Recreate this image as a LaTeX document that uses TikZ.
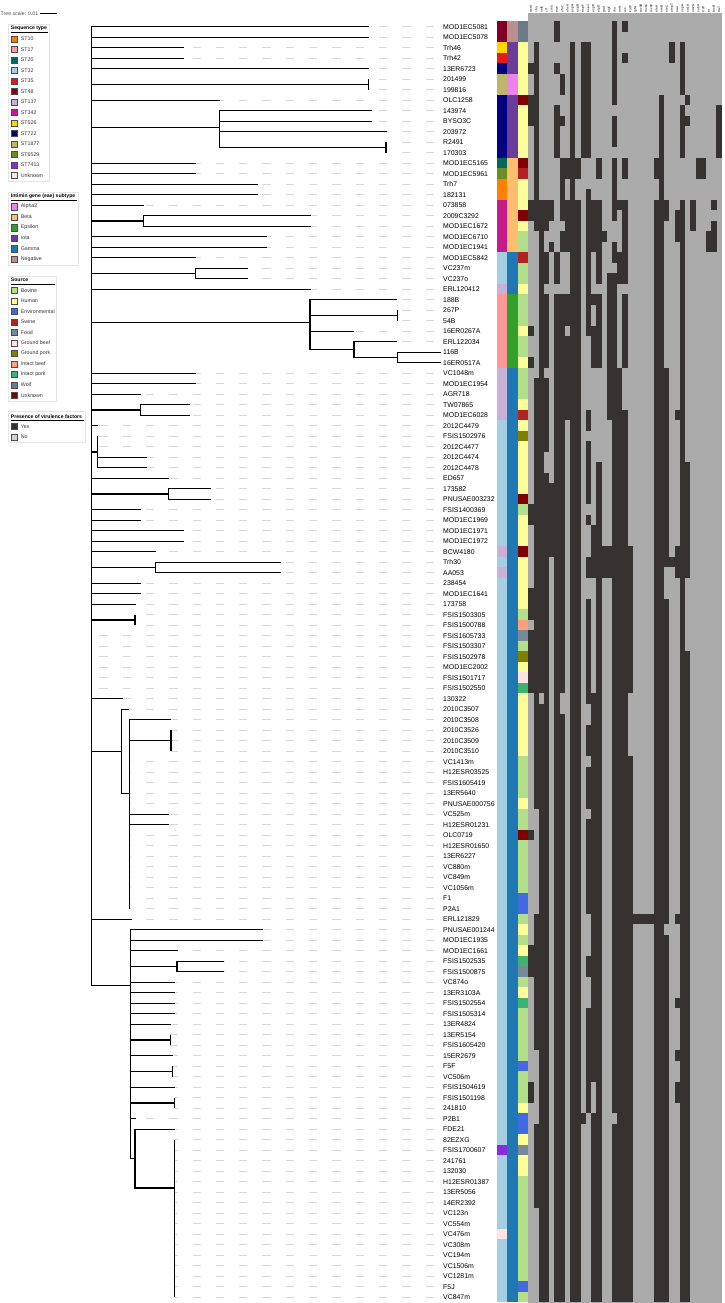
\documentclass[tikz,border=0pt]{standalone}
\usepackage{fontspec}
\setmainfont{Liberation Sans}
\usetikzlibrary{positioning}
% sequence types
\definecolor{st10}{HTML}{FF7F00}
\definecolor{st17}{HTML}{FB9A99}
\definecolor{st20}{HTML}{00695C}
\definecolor{st32}{HTML}{A6CEE3}
\definecolor{st35}{HTML}{E31A1C}
\definecolor{st48}{HTML}{800026}
\definecolor{st137}{HTML}{CAB2D6}
\definecolor{st342}{HTML}{C51B8A}
\definecolor{st526}{HTML}{FFD700}
\definecolor{st722}{HTML}{000080}
\definecolor{st1877}{HTML}{BDB76B}
\definecolor{st6529}{HTML}{6B8E23}
\definecolor{st7413}{HTML}{8A2BE2}
\definecolor{stunk}{HTML}{FFE4E1}
% intimin subtypes
\definecolor{eaeAlpha}{HTML}{EE82EE}
\definecolor{eaeBeta}{HTML}{FDBF6F}
\definecolor{eaeEps}{HTML}{33A02C}
\definecolor{eaeIota}{HTML}{6A3D9A}
\definecolor{eaeGamma}{HTML}{1F78B4}
\definecolor{eaeNeg}{HTML}{BC8F8F}
% sources
\definecolor{srcBov}{HTML}{B2DF8A}
\definecolor{srcHum}{HTML}{FFFF99}
\definecolor{srcEnv}{HTML}{4169E1}
\definecolor{srcSwi}{HTML}{B22222}
\definecolor{srcFood}{HTML}{778899}
\definecolor{srcGbeef}{HTML}{FFE4E1}
\definecolor{srcGpork}{HTML}{808000}
\definecolor{srcIbeef}{HTML}{FFA07A}
\definecolor{srcIpork}{HTML}{3CB371}
\definecolor{srcWolf}{HTML}{6C7A89}
\definecolor{srcUnk}{HTML}{800000}
% virulence
\definecolor{virYes}{HTML}{363232}
\definecolor{virNo}{HTML}{D3D3D3}
\definecolor{heatNo}{HTML}{ABABAB}
\newcommand{\ry}[1]{(26.7+10.5*(#1))}

\begin{document}
\begin{tikzpicture}[x=1pt,y=-1pt,
    branch/.style={line width=1.1pt},
    guide/.style={draw=black!16, line width=0.6pt, dash pattern=on 8.3pt off 15pt},
    tiplabel/.style={anchor=west, inner sep=0pt, font=\fontsize{6.9}{8}\selectfont},
    swatch/.style={draw=black!70, line width=0.3pt, minimum size=6.2pt, inner sep=0pt},
    legtext/.style={inner sep=0pt, font=\fontsize{5.3}{6}\selectfont, text=black!80},
    legtitle/.style={anchor=west, inner sep=0pt, font=\fontsize{5.1}{6}\selectfont\bfseries},
    legbox/.style={draw=black!10, line width=0.5pt},
    colhead/.style={rotate=90, anchor=west, inner sep=0pt, font=\fontsize{3.2}{4}\selectfont}
]
\useasboundingbox (0,0) rectangle (724,1303);

% tree scale
\node[anchor=west, inner sep=0pt, font=\fontsize{5.2}{6}\selectfont, text=black!70] (scaletxt) at (0.5,13.3) {Tree scale: 0.01};
\draw[line width=1.3pt] ([xshift=1.5pt]scaletxt.east) -- ++(17.4,0);

% legends
\draw[legbox] (8.3,24.3) rectangle (49.3,181.4);
\node[legtitle] (ttlST) at (10.7,28.6) {Sequence type};
\draw[line width=0.4pt] (10.7,32.6) -- (48.3,32.6);
\foreach \col/\txt [count=\k from 0] in {st10/ST10, st17/ST17, st20/ST20, st32/ST32, st35/ST35, st48/ST48, st137/ST137, st342/ST342, st526/ST526, st722/ST722, st1877/ST1877, st6529/ST6529, st7413/ST7413, stunk/Unknown}{
  \node[swatch, fill=\col] (kST\k) at (14,{38.9+10.5*\k}) {};
  \node[legtext, right=3.4pt of kST\k] (tST\k) {\txt};
}
\draw[legbox] (8.3,192.3) rectangle (78.3,265.6);
\node[legtitle] (ttlEae) at (10.7,196.6) {Intimin gene (eae) subtype};
\draw[line width=0.4pt] (10.7,200.6) -- (77.3,200.6);
\foreach \col/\txt [count=\k from 0] in {eaeAlpha/Alpha2, eaeBeta/Beta, eaeEps/Epsilon, eaeIota/Iota, eaeGamma/Gamma, eaeNeg/Negative}{
  \node[swatch, fill=\col] (kEae\k) at (14,{206.6+10.5*\k}) {};
  \node[legtext, right=3.4pt of kEae\k] (tEae\k) {\txt};
}
\draw[legbox] (8.3,275.8) rectangle (56,401.1);
\node[legtitle] (ttlSrc) at (10.7,280.1) {Source};
\draw[line width=0.4pt] (10.7,284.1) -- (55,284.1);
\foreach \col/\txt [count=\k from 0] in {srcBov/Bovine, srcHum/Human, srcEnv/Environmental, srcSwi/Swine, srcFood/Food, srcGbeef/Ground beef, srcGpork/Ground pork, srcIbeef/Intact beef, srcIpork/Intact pork, srcWolf/Wolf, srcUnk/Unknown}{
  \node[swatch, fill=\col] (kSrc\k) at (14,{290.5+10.5*\k}) {};
  \node[legtext, right=3.4pt of kSrc\k] (tSrc\k) {\txt};
}
\draw[legbox] (8.3,411.3) rectangle (85,442.6);
\node[legtitle] (ttlVir) at (10.7,416.4) {Presence of virulence factors};
\draw[line width=0.4pt] (10.7,420.4) -- (84,420.4);
\foreach \col/\txt [count=\k from 0] in {virYes/Yes, virNo/No}{
  \node[swatch, fill=\col] (kVir\k) at (14,{426.4+10.5*\k}) {};
  \node[legtext, right=3.4pt of kVir\k] (tVir\k) {\txt};
}

% tips, labels and guide dashes
\foreach \i/\tx/\name in {0/369/MOD1EC5081, 1/369/MOD1EC5078, 2/184.3/Trh46, 3/184.3/Trh42, 4/369/13ER6723,
  5/368.3/201499, 6/368.3/199816, 7/220.3/OLC1258, 8/371.7/143974, 9/371.7/BYSO3C, 10/386.7/203972,
  11/386/R2491, 12/386/170303, 13/195.7/MOD1EC5165, 14/195.7/MOD1EC5961, 15/258.3/Trh7, 16/258.3/182131,
  17/144.3/073858, 18/310.7/2009C3292, 19/310.7/MOD1EC1672, 20/267/MOD1EC6710, 21/267/MOD1EC1941,
  22/195.7/MOD1EC5842, 23/247.7/VC237m, 24/247.7/VC237o, 25/310.7/ERL120412, 26/397.3/188B, 27/397.3/267P,
  28/397.3/54B, 29/354/16ER0267A, 30/397.3/ERL122034, 31/441/116B, 32/441/16ER0517A, 33/195.7/VC1048m,
  34/195.7/MOD1EC1954, 35/141/AGR718, 36/189.7/TW07865, 37/189.7/MOD1EC6028, 38/98.3/2012C4479,
  39/97.7/FSIS1502976, 40/97.7/2012C4477, 41/147/2012C4474, 42/147/2012C4478, 43/169.3/ED657,
  44/210.7/173582, 45/210.7/PNUSAE003232, 46/141/FSIS1400369, 47/141/MOD1EC1969, 48/184.3/MOD1EC1971,
  49/184.3/MOD1EC1972, 50/156.3/BCW4180, 51/280.7/Trh30, 52/280.7/AA053, 53/141/238454, 54/141/MOD1EC1641,
  55/135.7/173758, 56/135/FSIS1503305, 57/135/FSIS1500788, 58/91.7/FSIS1605733, 59/91.7/FSIS1503307,
  60/91.7/FSIS1502978, 61/91.7/MOD1EC2002, 62/91.7/FSIS1501717, 63/91.7/FSIS1502550, 64/122.7/130322,
  65/129.3/2010C3507, 66/171/2010C3508, 67/171/2010C3526, 68/171/2010C3509, 69/171/2010C3510,
  70/129.3/VC1413m, 71/129.3/H12ESR03525, 72/129.3/FSIS1605419, 73/129.3/13ER5640, 74/129.3/PNUSAE000756,
  75/169.3/VC525m, 76/169.3/H12ESR01231, 77/129.3/OLC0719, 78/129.3/H12ESR01650, 79/129.3/13ER6227,
  80/129.3/VC880m, 81/129.3/VC849m, 82/129.3/VC1056m, 83/129.3/F1, 84/129.3/P2A1, 85/131.7/ERL121829,
  86/262.7/PNUSAE001244, 87/262.7/MOD1EC1935, 88/177.7/MOD1EC1661, 89/224/FSIS1502535, 90/224/FSIS1500875,
  91/175.3/VC874o, 92/175.3/13ER3103A, 93/175.3/FSIS1502554, 94/175.3/FSIS1505314, 95/171/13ER4824,
  96/170.3/13ER5154, 97/170.3/FSIS1605420, 98/173.3/15ER2679, 99/172.7/F5F, 100/172.7/VC506m,
  101/175.3/FSIS1504619, 102/174.7/FSIS1501198, 103/174.7/241810, 104/135.7/P2B1, 105/175.3/FDE21,
  106/174.7/82EZXG, 107/174.7/FSIS1700607, 108/174.7/241761, 109/174.7/132030, 110/174.7/H12ESR01387,
  111/174.7/13ER5056, 112/174.7/14ER2392, 113/174.7/VC123n, 114/174.7/VC554m, 115/174.7/VC476m,
  116/174.7/VC308m, 117/174.7/VC194m, 118/174.7/VC1506m, 119/174.7/VC1281m, 120/174.7/F5J, 121/174.7/VC847m}{
  \coordinate (t\i) at (\tx,{\ry{\i}});
  \node[tiplabel] (l\i) at (443,{\ry{\i}}) {\name};
  \pgfmathsetmacro\ph{mod(\tx-99.3+233,23.3)}
  \draw[guide, dash phase=\ph pt] (t\i) -- (l\i.west);
}

% internal nodes
\coordinate (root) at (91.7,{\ry{45}});
\coordinate (n56) at (368.3,{\ry{5.5}});
\coordinate (nA1) at (219.7,{\ry{9.6}});
\coordinate (n1112) at (386,{\ry{11.5}});
\coordinate (n1819) at (143.7,{\ry{18.5}});
\coordinate (n2324) at (195.7,{\ry{23.5}});
\coordinate (nX) at (310,{\ry{28.2}});
\coordinate (n2728) at (397.3,{\ry{27.5}});
\coordinate (nY) at (354,{\ry{30.75}});
\coordinate (nZ) at (397.3,{\ry{31.5}});
\coordinate (n3637) at (140.3,{\ry{36.5}});
\coordinate (n3942) at (97.7,{\ry{40.5}});
\coordinate (n4445) at (168.7,{\ry{44.5}});
\coordinate (n5152) at (155.7,{\ry{51.5}});
\coordinate (n5657) at (135,{\ry{56.5}});
\coordinate (nA) at (121.7,{\ry{69}});
\coordinate (nB) at (129.3,{\ry{73}});
\coordinate (n6769) at (171,{\ry{68}});
\coordinate (nC) at (130.7,{\ry{91.3}});
\coordinate (n8990) at (177,{\ry{89.5}});
\coordinate (n9697) at (170.3,{\ry{96.5}});
\coordinate (n99100) at (172.7,{\ry{99.5}});
\coordinate (n102103) at (174.7,{\ry{102.5}});
\coordinate (nD) at (135,{\ry{107.8}});
\coordinate (nE) at (174.7,{\ry{110.6}});

% branches
\foreach \p/\kids in {
  root/{t0,t1,t2,t3,t4,n56,t7,nA1,t13,t14,t15,t16,t17,n1819,t20,t21,t22,n2324,t25,nX,t33,t34,t35,n3637,t38,n3942,t43,n4445,t46,t47,t48,t49,t50,n5152,t53,t54,t55,n5657,t58,t59,t60,t61,t62,t63,t64,nA,t85,nC},
  n56/{t5,t6}, nA1/{t8,t9,t10,n1112}, n1112/{t11,t12}, n1819/{t18,t19}, n2324/{t23,t24},
  nX/{t26,n2728,t29,nY}, n2728/{t27,t28}, nY/{t30,nZ}, nZ/{t31,t32}, n3637/{t36,t37},
  n3942/{t39,t40,t41,t42}, n4445/{t44,t45}, n5152/{t51,t52}, n5657/{t56,t57},
  nA/{t65,nB}, nB/{t66,n6769,t70,t71,t72,t73,t74,t75,t76,t77,t78,t79,t80,t81,t82,t83,t84}, n6769/{t67,t68,t69},
  nC/{t86,t87,t88,n8990,t91,t92,t93,t94,t95,n9697,t98,n99100,t101,n102103,t104,nD},
  n8990/{t89,t90}, n9697/{t96,t97}, n99100/{t99,t100}, n102103/{t102,t103}, nD/{t105,nE},
  nE/{t106,t107,t108,t109,t110,t111,t112,t113,t114,t115,t116,t117,t118,t119,t120,t121}}{
  \foreach \k in \kids {\draw[branch] (\p) |- (\k);}
}

% colour strips
\foreach \a/\b/\col in {0/1/st48, 2/2/st526, 3/3/st35, 4/4/st722, 5/6/st1877, 7/12/st722, 13/13/st20, 14/14/st6529,
  15/16/st10, 17/21/st342, 22/24/st32, 25/25/st137, 26/32/st17, 33/37/st137, 38/49/st32, 50/50/st137, 51/51/st32,
  52/52/st137, 53/106/st32, 107/107/st7413, 108/114/st32, 115/115/stunk, 116/121/st32}
  \fill[\col] (496.5,{\ry{\a}-5.25}) rectangle (507.05,{\ry{\b}+5.25});
\foreach \a/\b/\col in {0/1/eaeNeg, 2/4/eaeIota, 5/6/eaeAlpha, 7/12/eaeIota, 13/21/eaeBeta, 22/25/eaeGamma,
  26/32/eaeEps, 33/121/eaeGamma}
  \fill[\col] (507,{\ry{\a}-5.25}) rectangle (517.55,{\ry{\b}+5.25});
\foreach \a/\b/\col in {0/1/srcWolf, 2/6/srcHum, 7/7/srcUnk, 8/12/srcHum, 13/13/srcUnk, 14/14/srcSwi, 15/17/srcHum,
  18/18/srcUnk, 19/19/srcHum, 20/21/srcBov, 22/22/srcSwi, 23/24/srcBov, 25/25/srcHum, 26/28/srcBov, 29/29/srcHum,
  30/31/srcBov, 32/32/srcHum, 33/35/srcBov, 36/36/srcHum, 37/37/srcSwi, 38/38/srcHum, 39/39/srcGpork, 40/44/srcHum,
  45/45/srcUnk, 46/46/srcBov, 47/49/srcHum, 50/50/srcUnk, 51/55/srcHum, 56/56/srcBov, 57/57/srcIbeef, 58/58/srcFood,
  59/59/srcBov, 60/60/srcGpork, 61/61/srcHum, 62/62/srcGbeef, 63/63/srcIpork, 64/69/srcHum, 70/73/srcBov,
  74/74/srcHum, 75/76/srcBov, 77/77/srcUnk, 78/82/srcBov, 83/84/srcEnv, 85/85/srcBov, 86/86/srcHum, 87/87/srcBov,
  88/88/srcHum, 89/89/srcIpork, 90/90/srcFood, 91/91/srcBov, 92/92/srcHum, 93/93/srcIpork, 94/98/srcBov,
  99/99/srcEnv, 100/102/srcBov, 103/103/srcHum, 104/105/srcEnv, 106/106/srcHum, 107/107/srcFood, 108/109/srcHum,
  110/119/srcBov, 120/120/srcEnv, 121/121/srcBov}
  \fill[\col] (517.5,{\ry{\a}-5.25}) rectangle (528.35,{\ry{\b}+5.25});

% virulence heatmap
\fill[heatNo] (528.3,13.3) rectangle (721.7,1302.5);
\foreach \c/\a/\b in {0/4/4, 0/7/9, 0/17/18, 0/29/29, 0/32/32, 0/46/47, 0/54/56, 0/58/63, 0/77/77, 0/88/90, 0/101/102,
  1/2/19, 1/34/74, 1/85/97, 1/105/112,
  2/17/63, 2/65/121,
  3/17/19, 3/22/24, 3/26/32, 3/34/40, 3/43/121,
  4/17/18, 4/21/21, 4/44/50,
  5/0/1, 5/4/4, 5/8/12, 5/22/24, 5/26/121,
  6/5/6, 6/9/9, 6/13/18, 6/20/21, 6/26/63, 6/66/121,
  7/13/14, 7/17/21, 7/26/28, 7/30/37,
  8/2/121,
  9/13/14, 9/17/121,
  10/2/12, 10/104/104,
  11/2/12, 11/16/29, 11/37/38, 11/40/45, 11/47/47, 11/51/52, 11/55/64, 11/67/69, 11/71/74, 11/76/84, 11/89/90, 11/94/103,
  12/17/21, 12/26/26, 12/29/32, 12/48/52, 12/64/100, 12/104/121,
  13/13/14, 13/17/24, 13/26/32, 13/42/121,
  14/20/20, 14/50/52,
  15/24/37, 15/50/52,
  16/0/7, 16/9/11, 16/13/18, 16/21/22, 16/24/103, 16/105/121,
  17/17/17, 17/22/24, 17/33/121,
  18/0/0, 18/3/3, 18/13/14, 18/17/24, 18/26/32, 18/37/121,
  19/50/63, 19/70/121,
  20/85/85, 21/85/85, 22/85/85, 23/85/85,
  24/13/14, 24/17/121,
  25/7/121,
  26/17/18, 26/33/51, 26/55/85, 26/87/121,
  27/2/3, 27/51/51,
  28/18/20, 28/37/37, 28/50/52, 28/85/85, 28/93/93, 28/98/98, 28/101/102,
  29/2/6, 29/8/12, 29/17/121,
  30/7/7, 30/9/9, 30/42/52, 30/60/121,
  31/17/19, 32/13/14, 33/13/14, 34/20/21, 35/17/17, 35/19/21, 36/8/12}
  \fill[virYes] ({528.3+5.227*\c},{\ry{\a}-5.25}) rectangle ({528.35+5.227*(\c+1)},{\ry{\b}+5.25});

% column headers
\foreach \g [count=\c from 0] in {astA, cba, celb, cif, cma, eae, efa1, ehxA, espA, espB, espF, espJ, espP, etpD,
  gad, hlyF, iha, iroN, iss, katP, lpfA, mchB, mchC, mchF, nleA, nleB, nleC, ompT, saa, sepA, stx1A, stx2A,
  subA, tccP, tir, toxB, traT}
  \node[colhead] (h\c) at ({528.3+5.227*\c+2.6},12.3) {\g};
\end{tikzpicture}
\end{document}
